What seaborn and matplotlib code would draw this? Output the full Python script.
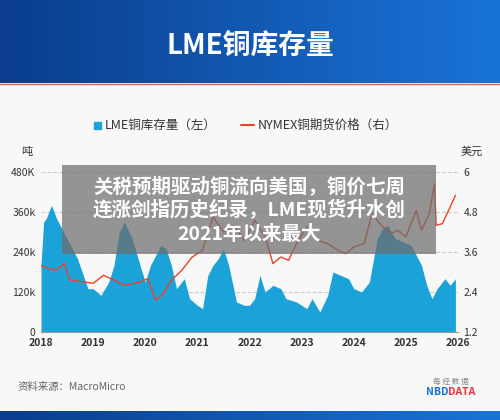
import numpy as np
import pandas as pd
import matplotlib.pyplot as plt
import seaborn as sns
from matplotlib.patches import Rectangle
from matplotlib.colors import LinearSegmentedColormap

sns.set_style('white')
plt.rcParams['font.family'] = ['Noto Sans CJK SC', 'DejaVu Sans']

# LME copper stocks, thousand tonnes (left axis)
stock_t = [2018.0, 2018.05, 2018.1, 2018.2, 2018.3, 2018.5, 2018.7, 2018.9, 2019.0, 2019.15, 2019.3,
           2019.4, 2019.5, 2019.6, 2019.75, 2019.9, 2020.0, 2020.1, 2020.2, 2020.3, 2020.4, 2020.5,
           2020.6, 2020.75, 2020.85, 2021.0, 2021.1, 2021.2, 2021.3, 2021.4, 2021.5, 2021.6, 2021.75,
           2021.9, 2022.0, 2022.1, 2022.2, 2022.3, 2022.45, 2022.6, 2022.7, 2022.9, 2023.0, 2023.1,
           2023.2, 2023.35, 2023.5, 2023.6, 2023.75, 2023.9, 2024.0, 2024.15, 2024.3, 2024.45, 2024.55,
           2024.65, 2024.8, 2024.95, 2025.1, 2025.2, 2025.3, 2025.4, 2025.5, 2025.6, 2025.75, 2025.85, 2025.95]
stock_v = [200, 330, 340, 380, 340, 280, 220, 130, 130, 110, 150,
           200, 300, 330, 280, 200, 150, 200, 230, 260, 250, 200,
           130, 160, 100, 80, 70, 170, 200, 220, 250, 200, 90,
           80, 80, 100, 170, 120, 140, 130, 100, 90, 80, 70,
           100, 60, 110, 180, 170, 160, 130, 120, 150, 280, 310,
           320, 280, 270, 260, 230, 200, 140, 100, 130, 160, 140, 160]

# NYMEX copper futures, USD/lb (right axis)
price_t = [2018.0, 2018.15, 2018.3, 2018.45, 2018.55, 2018.8, 2019.0, 2019.2, 2019.4, 2019.6, 2019.9,
           2020.05, 2020.2, 2020.35, 2020.5, 2020.7, 2020.9, 2021.1, 2021.3, 2021.5, 2021.7, 2021.9,
           2022.1, 2022.3, 2022.45, 2022.6, 2022.75, 2022.9, 2023.1, 2023.3, 2023.5, 2023.7, 2023.85,
           2024.0, 2024.2, 2024.35, 2024.5, 2024.7, 2024.85, 2025.0, 2025.2, 2025.3, 2025.45, 2025.55,
           2025.58, 2025.7, 2025.85, 2025.95]
price_v = [3.2, 3.1, 3.06, 3.26, 2.76, 2.71, 2.66, 2.9, 2.76, 2.6, 2.7,
           2.8, 2.15, 2.35, 2.75, 3.05, 3.45, 3.65, 4.65, 4.2, 4.4, 3.95,
           4.55, 4.05, 3.25, 3.45, 3.35, 3.85, 4.35, 3.95, 3.85, 3.65, 3.55,
           3.75, 3.85, 4.75, 4.45, 4.15, 4.25, 4.05, 4.85, 4.25, 4.75, 5.65,
           4.4, 4.45, 4.95, 5.3]

years = list(range(2018, 2027))
left_ticks = [0, 120, 240, 360, 480]
left_labels = ['0', '120k', '240k', '360k', '480K']
right_ticks = [1.2, 2.4, 3.6, 4.8, 6]
right_labels = ['1.2', '2.4', '3.6', '4.8', '6']
headline = ['关税预期驱动铜流向美国，铜价七周',
            '连涨剑指历史纪录，LME现货升水创',
            '2021年以来最大']

stock = pd.DataFrame({'t': stock_t, 'v': stock_v})
price = pd.DataFrame({'t': price_t, 'v': price_v})

fig = plt.figure(figsize=(5, 4.2), dpi=100, facecolor='#f8f8f8')

# header gradient
grad = np.linspace(0, 1, 256).reshape(1, -1)
cm = LinearSegmentedColormap.from_list('h', ['#0a3d8c', '#1a74d8'])
hdr = fig.add_axes([0, 1 - 83 / 420, 1, 83 / 420])
hdr.imshow(grad, aspect='auto', cmap=cm, extent=[0, 1, 0, 1])
hdr.axis('off')
hdr.text(0.5, 0.45, 'LME铜库存量', color='white', fontsize=20, fontweight='bold',
         ha='center', va='center')
fig.add_artist(plt.Line2D([0, 1], [1 - 84 / 420] * 2, color='#e06060', lw=1))

# bottom bar
bot = fig.add_axes([0, 0, 1, 9 / 420])
bot.imshow(grad, aspect='auto', cmap=cm, extent=[0, 1, 0, 1])
bot.axis('off')

ax = fig.add_axes([41 / 500, 1 - 332 / 420, 417 / 500, 160 / 420])
ax.set_facecolor('#f8f8f8')
ax.fill_between(stock['t'], stock['v'], color='#1ba3d9', lw=0)
ax.set_xlim(2018, 2026)
ax.set_ylim(0, 480)
ax.set_yticks(left_ticks)
ax.set_yticklabels(left_labels)
ax.set_xticks(years)
ax.grid(axis='y', ls='--', color='#cccccc', lw=0.8)
for s in ['top', 'right', 'left']:
    ax.spines[s].set_visible(False)
ax.spines['bottom'].set_color('#999999')
ax.tick_params(labelsize=7.5, colors='#333333', length=0, pad=4)
ax.set_xticklabels([str(y) for y in years], fontweight='bold')

ax2 = ax.twinx()
sns.lineplot(data=price, x='t', y='v', ax=ax2, color='#e8432a', lw=1)
ax2.set_ylim(1.2, 6)
ax2.set_yticks(right_ticks)
ax2.set_yticklabels(right_labels)
ax2.set_xlabel('')
ax2.set_ylabel('')
for s in ['top', 'right', 'left', 'bottom']:
    ax2.spines[s].set_visible(False)
ax2.tick_params(labelsize=7.5, colors='#333333', length=0, pad=4)

fig.text(27 / 500, 1 - 152 / 420, '吨', fontsize=8, ha='center', va='center', color='#333333')
fig.text(472 / 500, 1 - 152 / 420, '美元', fontsize=8, ha='center', va='center', color='#333333')

# legend
fig.add_artist(Rectangle((94 / 500, 1 - 129 / 420), 7 / 500, 7 / 420, color='#1ba3d9'))
fig.text(105 / 500, 1 - 125 / 420, 'LME铜库存量（左）', fontsize=9, va='center', color='#333333')
fig.add_artist(plt.Line2D([241 / 500, 254 / 500], [1 - 125 / 420] * 2, color='#e8432a', lw=1.5))
fig.text(258 / 500, 1 - 125 / 420, 'NYMEX铜期货价格（右）', fontsize=9, va='center', color='#333333')

# overlay headline
fig.add_artist(Rectangle((62 / 500, 1 - 254 / 420), 374 / 500, 89 / 420,
                         color='#6e6e6e', alpha=0.72, lw=0))
for i, line in enumerate(headline):
    fig.text(249 / 500, 1 - (186 + 24 * i) / 420, line, color='white', fontsize=14,
             fontweight='bold', ha='center', va='center')

fig.text(18 / 500, 1 - 387 / 420, '资料来源：MacroMicro', fontsize=7.5, color='#666666', va='center')
fig.text(451 / 500, 1 - 382 / 420, '每 经 数 据', fontsize=5.5, color='#888888', ha='center', va='center')
fig.text(426 / 500, 1 - 392 / 420, 'NBD', fontsize=7.5, color='#1a6fd6', fontweight='bold', va='center')
fig.text(448 / 500, 1 - 392 / 420, 'DATA', fontsize=7.5, color='#e8303a', fontweight='bold', va='center')

fig.savefig('out.png', dpi=100, facecolor=fig.get_facecolor())
